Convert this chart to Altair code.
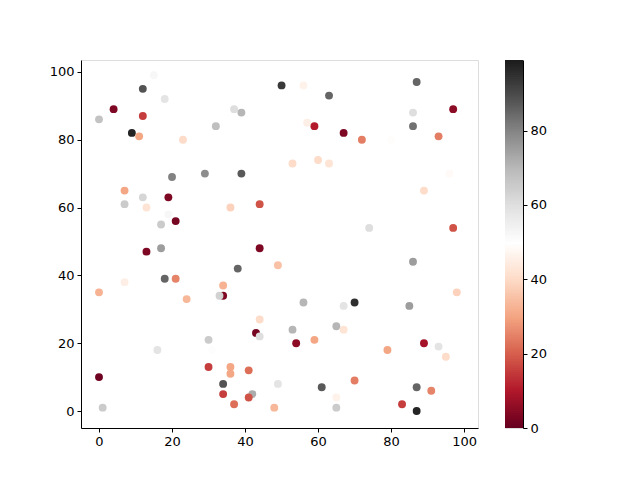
import altair as alt
import pandas as pd

xs = [0, 4, 9, 11, 12, 12, 15, 18, 23, 32, 37, 39, 20, 29, 39, 7, 7, 12, 13, 19,
      17, 19, 21, 36, 44, 50, 56, 63, 57, 59, 67, 72, 80, 87, 86, 86, 97, 93, 53, 60,
      63, 96, 89, 74, 97, 13, 17, 44, 38, 18, 21, 7, 0, 24, 34, 34, 33, 49, 44, 43,
      44, 30, 16, 31, 0, 30, 36, 36, 41, 34, 34, 42, 41, 37, 1, 48, 49, 86, 98, 56,
      67, 70, 85, 53, 65, 67, 54, 59, 79, 89, 93, 95, 61, 70, 65, 65, 87, 91, 83, 87]
ys = [86, 89, 82, 81, 95, 87, 99, 92, 80, 84, 89, 88, 69, 70, 70, 65, 61, 63, 60, 63,
      55, 58, 56, 60, 61, 96, 96, 93, 85, 84, 82, 80, 80, 97, 88, 84, 89, 81, 73, 74,
      73, 70, 65, 54, 54, 47, 48, 48, 42, 39, 39, 38, 35, 33, 37, 34, 34, 43, 27, 23,
      22, 21, 18, 18, 10, 13, 13, 11, 12, 8, 5, 5, 4, 2, 1, 1, 8, 44, 35, 32,
      31, 32, 31, 24, 25, 24, 20, 21, 18, 20, 19, 16, 7, 9, 4, 1, 7, 6, 2, 0]
cs = [67, 3, 97, 30, 88, 15, 52, 58, 40, 68, 60, 70, 80, 78, 87, 30, 65, 62, 42, 3,
      65, 52, 2, 38, 18, 93, 46, 85, 45, 10, 3, 24, 49, 85, 60, 83, 5, 24, 40, 40,
      42, 48, 40, 60, 18, 3, 75, 3, 85, 85, 25, 45, 32, 33, 32, 3, 63, 35, 40, 2,
      60, 65, 58, 50, 1, 15, 30, 30, 22, 88, 15, 72, 18, 22, 65, 33, 58, 75, 38, 70,
      58, 95, 75, 70, 70, 42, 5, 30, 30, 8, 58, 40, 87, 24, 46, 65, 85, 25, 15, 97]

cbar_vals = [i * 0.5 for i in range(198)]

rdgy = ["#67001f", "#b2182b", "#d6604d", "#f4a582", "#fddbc7", "#ffffff",
        "#e0e0e0", "#bababa", "#878787", "#4d4d4d", "#1a1a1a"]
rdgy_domain = [i * 9.9 for i in range(11)]

df = pd.DataFrame({"x": xs, "y": ys, "c": cs})
cb = pd.DataFrame({"v": cbar_vals})
cb["v2"] = (cb["v"] + 1.5).clip(upper=99)

FONT = "DejaVu Sans"
color_scale = alt.Scale(domain=rdgy_domain, range=rdgy, interpolate="rgb")

axis_common = dict(grid=False, domainColor="black", tickColor="black", labelColor="black",
                   labelFont=FONT, labelFontSize=13, tickSize=4, labelPadding=3, domainWidth=1, tickWidth=1)

main = alt.Chart(df).mark_circle(size=62, opacity=1, strokeWidth=0).encode(
    x=alt.X("x:Q", scale=alt.Scale(domain=[-4.93, 103.8], nice=False, zero=False),
            axis=alt.Axis(values=[0, 20, 40, 60, 80, 100], title=None, **axis_common)),
    y=alt.Y("y:Q", scale=alt.Scale(domain=[-5.0, 103.5], nice=False, zero=False),
            axis=alt.Axis(values=[0, 20, 40, 60, 80, 100], title=None, **axis_common)),
    color=alt.Color("c:Q", scale=color_scale, legend=None),
).properties(width=397, height=368)

bar = alt.Chart(cb).mark_rect(opacity=1, strokeWidth=0).encode(
    x=alt.value(0), x2=alt.value(18),
    y=alt.Y("v:Q", scale=alt.Scale(domain=[0, 99], nice=False, zero=False),
            axis=alt.Axis(orient="right", values=[0, 20, 40, 60, 80], title=None, **axis_common)),
    y2="v2:Q",
    color=alt.Color("v:Q", scale=color_scale, legend=None),
).properties(width=18, height=368)

chart = alt.hconcat(main, bar, spacing=25).properties(
    padding={"left": 40, "top": 51, "right": 5, "bottom": 5}
).configure_view(stroke="black", strokeWidth=1).configure(background="white")

chart.save("out.html", embed_options={"renderer": "svg", "actions": False})
